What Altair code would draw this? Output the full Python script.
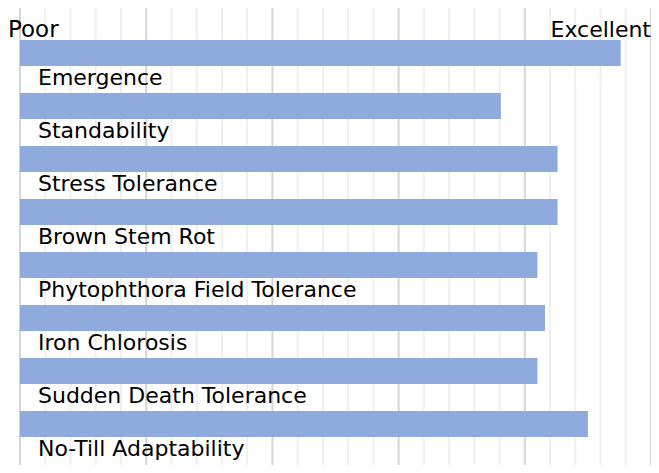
import altair as alt
import pandas as pd

traits = ["Emergence", "Standability", "Stress Tolerance", "Brown Stem Rot",
          "Phytophthora Field Tolerance", "Iron Chlorosis",
          "Sudden Death Tolerance", "No-Till Adaptability"]
ratings = [4.76, 3.81, 4.26, 4.26, 4.10, 4.16, 4.10, 4.50]
major_ticks = [0, 1, 2, 3, 4, 5]
minor_ticks = [0.2, 0.4, 0.6, 0.8, 1.2, 1.4, 1.6, 1.8, 2.2, 2.4, 2.6, 2.8,
               3.2, 3.4, 3.6, 3.8, 4.2, 4.4, 4.6, 4.8]
scale_labels = ["Poor", "Excellent"]

df = pd.DataFrame({"trait": traits, "rating": ratings})
minor_df = pd.DataFrame({"v": minor_ticks})
major_df = pd.DataFrame({"v": major_ticks})

FONT = "DejaVu Sans"
xscale = alt.Scale(domain=[0, 5], nice=False, zero=True)
yscale = alt.Scale(range=[32, 429], paddingInner=0.5094, paddingOuter=0)

minor = alt.Chart(minor_df).mark_rule(color="#efefef", strokeWidth=2).encode(
    x=alt.X("v:Q", scale=xscale, axis=None))
major = alt.Chart(major_df).mark_rule(color="#d6d6d6", strokeWidth=2).encode(
    x=alt.X("v:Q", scale=xscale, axis=None))

bars = alt.Chart(df).mark_bar(color="#8FAADC").encode(
    x=alt.X("rating:Q", scale=xscale, axis=None),
    y=alt.Y("trait:N", sort=traits, scale=yscale, axis=None),
)

labels = alt.Chart(df).mark_text(
    align="left", baseline="alphabetic", dx=18, dy=32,
    font=FONT, fontSize=22, color="#000000"
).encode(
    x=alt.datum(0),
    y=alt.Y("trait:N", sort=traits, scale=yscale, axis=None),
    text="trait:N",
)

poor = alt.Chart(pd.DataFrame({"t": [scale_labels[0]]})).mark_text(
    align="left", baseline="alphabetic", dx=-12, font=FONT, fontSize=23, color="#000000"
).encode(x=alt.datum(0), y=alt.value(29), text="t:N")

excellent = alt.Chart(pd.DataFrame({"t": [scale_labels[1]]})).mark_text(
    align="right", baseline="alphabetic", dx=0, font=FONT, fontSize=22, color="#000000"
).encode(x=alt.datum(5), y=alt.value(29), text="t:N")

chart = alt.layer(minor, major, bars, labels, poor, excellent).properties(
    width=631, height=457,
    autosize=alt.AutoSizeParams(type="none"),
    padding={"left": 12, "top": 0, "right": 0, "bottom": 0},
    background="white",
).configure_view(stroke=None)

chart.save("out.html", embed_options={"renderer": "svg", "actions": False})
